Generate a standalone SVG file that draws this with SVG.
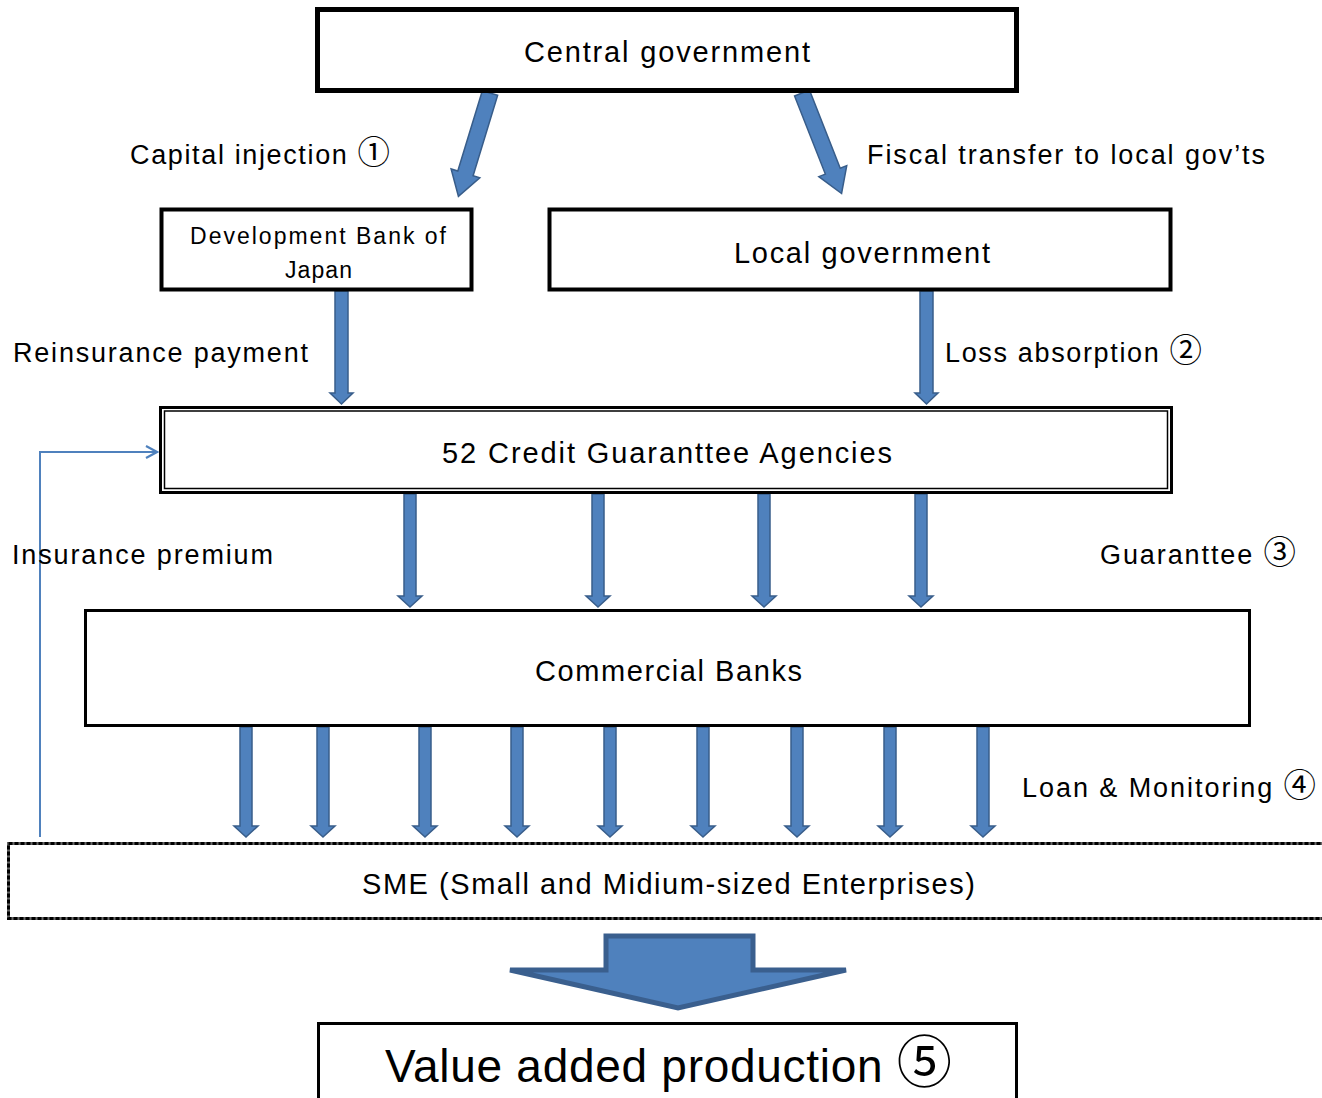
<svg xmlns="http://www.w3.org/2000/svg" width="1322" height="1098" viewBox="0 0 1322 1098">
<defs>
<style>
text{font-family:"Liberation Sans","Noto Sans CJK JP",sans-serif;fill:#000;}
.c{font-family:"Noto Sans CJK JP",sans-serif;font-size:1.2em;}
.box{fill:#fff;stroke:#000;}
.blk{fill:#4F81BD;stroke:#385D8A;stroke-width:1.5;}
.t28{font-size:29px;}
.t26{font-size:27px;}
.t22{font-size:23px;}
</style>
<marker id="open" markerWidth="14" markerHeight="14" refX="12" refY="7" orient="auto" markerUnits="userSpaceOnUse">
<path d="M1,1 L12,7 L1,13" fill="none" stroke="#4F81BD" stroke-width="2.2"/>
</marker>
</defs>
<rect width="1322" height="1098" fill="#fff"/>

<g id="connectors">
<polygon class="blk" transform="translate(490,93) rotate(17)" points="-8,0 8,0 8,84 15,84 0,108 -15,84 -8,84"/>
<polygon class="blk" transform="translate(802,93) rotate(-21.5)" points="-8,0 8,0 8,84 15,84 0,108 -15,84 -8,84"/>
<polygon class="blk" points="335,291 348,291 348,393 353,393 341.5,404 330,393 335,393"/>
<polygon class="blk" points="920,291 933,291 933,393 938,393 926.5,404 915,393 920,393"/>
<g class="blk">
<polygon points="404,494 416,494 416,596 422,596 410,607 398,596 404,596"/>
<polygon points="592,494 604,494 604,596 610,596 598,607 586,596 592,596"/>
<polygon points="758,494 770,494 770,596 776,596 764,607 752,596 758,596"/>
<polygon points="915,494 927,494 927,596 933,596 921,607 909,596 915,596"/>
</g>
<g class="blk">
<polygon points="240,727 252,727 252,826 258,826 246,837 234,826 240,826"/>
<polygon points="317,727 329,727 329,826 335,826 323,837 311,826 317,826"/>
<polygon points="419,727 431,727 431,826 437,826 425,837 413,826 419,826"/>
<polygon points="511,727 523,727 523,826 529,826 517,837 505,826 511,826"/>
<polygon points="604,727 616,727 616,826 622,826 610,837 598,826 604,826"/>
<polygon points="697,727 709,727 709,826 715,826 703,837 691,826 697,826"/>
<polygon points="791,727 803,727 803,826 809,826 797,837 785,826 791,826"/>
<polygon points="884,727 896,727 896,826 902,826 890,837 878,826 884,826"/>
<polygon points="977,727 989,727 989,826 995,826 983,837 971,826 977,826"/>
</g>
<polyline points="40,837 40,452 157,452" fill="none" stroke="#4F81BD" stroke-width="2" marker-end="url(#open)"/>
<polygon points="606,936 753,936 753,970 846,970 678,1008 510,970 606,970" fill="#4F81BD" stroke="#3A5F8E" stroke-width="5" stroke-linejoin="miter"/>
</g>

<g id="central">
<rect class="box" x="317.5" y="9.5" width="699" height="81" stroke-width="5"/>
<text class="t28" x="524" y="62" textLength="286" lengthAdjust="spacing">Central government</text>
</g>

<g id="dbj">
<rect class="box" x="161.5" y="209.5" width="310" height="80" stroke-width="4"/>
<text class="t22" x="190" y="244" textLength="256" lengthAdjust="spacing">Development Bank of</text>
<text class="t22" x="285" y="278" textLength="67" lengthAdjust="spacing">Japan</text>
</g>

<g id="local">
<rect class="box" x="549.5" y="209.5" width="621" height="80" stroke-width="4"/>
<text class="t28" x="734" y="263" textLength="256" lengthAdjust="spacing">Local government</text>
</g>

<g id="cga">
<rect class="box" x="160.5" y="407.5" width="1011" height="85" stroke-width="3"/>
<rect x="164.5" y="411" width="1003" height="77.5" fill="none" stroke="#000" stroke-width="1.5"/>
<text class="t28" x="442" y="463" textLength="450" lengthAdjust="spacing">52 Credit Guaranttee Agencies</text>
</g>

<g id="banks">
<rect class="box" x="85.5" y="610.5" width="1164" height="115" stroke-width="3"/>
<text class="t28" x="535" y="681" textLength="267" lengthAdjust="spacing">Commercial Banks</text>
</g>

<g id="sme">
<rect x="8.5" y="843.5" width="1320" height="75" fill="#fff" stroke="#666" stroke-width="3"/>
<rect x="8.5" y="843.5" width="1320" height="75" fill="none" stroke="#000" stroke-width="3" stroke-dasharray="4 2"/>
<text class="t28" x="362" y="894" textLength="613" lengthAdjust="spacing">SME (Small and Midium-sized Enterprises)</text>
</g>

<g id="value">
<rect class="box" x="318.5" y="1023.5" width="698" height="90" stroke-width="3"/>
<text x="385" y="1082" font-size="46" textLength="567" lengthAdjust="spacing">Value added production <tspan class="c">⑤</tspan></text>
</g>

<g id="labels">
<text class="t26" x="130" y="164" textLength="260" lengthAdjust="spacing">Capital injection <tspan class="c">①</tspan></text>
<text class="t26" x="867" y="164" textLength="398" lengthAdjust="spacing">Fiscal transfer to local gov’ts</text>
<text class="t26" x="13" y="362" textLength="295" lengthAdjust="spacing">Reinsurance payment</text>
<text class="t26" x="945" y="362" textLength="257" lengthAdjust="spacing">Loss absorption <tspan class="c">②</tspan></text>
<text class="t26" x="12" y="564" textLength="261" lengthAdjust="spacing">Insurance premium</text>
<text class="t26" x="1100" y="564" textLength="196" lengthAdjust="spacing">Guaranttee <tspan class="c">③</tspan></text>
<text class="t26" x="1022" y="797" textLength="294" lengthAdjust="spacing">Loan &amp; Monitoring <tspan class="c">④</tspan></text>
</g>
</svg>
